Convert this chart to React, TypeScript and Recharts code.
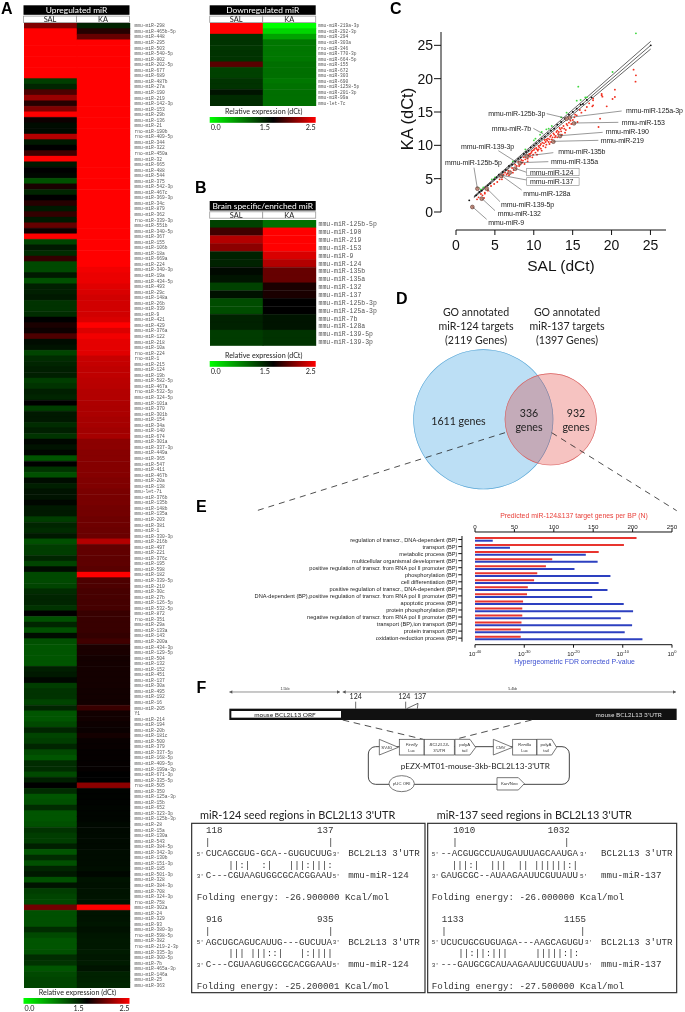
import React from "react";
import {
  Bar,
  BarChart,
  Cell,
  Pie,
  PieChart,
  ReferenceLine,
  Scatter,
  ScatterChart,
  XAxis,
  YAxis,
} from "recharts";

// Panel A: upregulated miRs
const upNames = [
  "298", "465b-5p", "448", "295", "503", "540-5p", "802", "202-5p", "677", "689",
  "487b", "27a", "190", "219", "142-3p", "153", "29b", "136", "21", "rno-miR-190b",
  "rno-miR-409-5p", "344", "322", "rno-miR-450a", "32", "665", "488", "544", "375", "542-3p",
  "467c", "369-3p", "34c", "879", "362", "rno-miR-339-3p", "551b", "340-5p", "367", "155",
  "106b", "18a", "669a", "224", "340-3p", "19a", "434-5p", "493", "29c", "148a",
  "26b", "339", "9", "421", "429", "376a", "122", "218", "10a", "rno-miR-224",
  "rno-miR-1", "215", "124", "19b", "582-5p", "467a", "rno-miR-532-5p", "324-5p", "101a", "370",
  "301b", "154", "34a", "140", "674", "301a", "337-3p", "449a", "365", "547",
  "411", "467b", "20a", "138", "mmu-let-7i", "376b", "135b", "148b", "135a", "203",
  "381", "1", "330-3p", "216b", "497", "221", "376c", "195", "598", "182",
  "339-5p", "210", "30c", "27b", "126-5p", "532-5p", "872", "rno-miR-351", "29a", "133a",
  "143", "200a", "434-3p", "129-5p", "504", "132", "152", "451", "137", "30a",
  "495", "192", "16", "205", "Y1", "214", "194", "20b", "181c", "500",
  "379", "337-5p", "168-5p", "409-5p", "199a-3p", "671-3p", "335-5p", "rno-miR-505", "350", "125a-3p",
  "15b", "652", "323-3p", "125b-3p", "28", "15a", "130a", "543", "384-5p", "342-3p",
  "130b", "151-3p", "185", "501-3p", "328", "384-3p", "708", "324-3p", "rno-miR-758", "302a",
  "24", "329", "93", "380-3p", "rno-miR-598-5p", "382", "rno-miR-219-2-3p", "335-3p", "300-5p", "7b",
  "465a-3p", "146a", "25", "363",
];
const upSal = [
  2.0, 2.5, 2.5, 2.5, 2.5, 2.5, 2.5, 2.5, 2.5, 2.5,
  1.14, 1.28, 1.8, 2.1, 1.65, 2.0, 2.5, 1.55, 1.43, 1.44,
  2.2, 1.35, 1.5, 1.75, 2.5, 1.35, 1.5, 1.46, 1.03, 1.6,
  1.28, 1.5, 1.65, 1.35, 1.7, 1.35, 1.9, 1.55, 2.5, 1.1,
  1.35, 1.24, 1.7, 1.07, 1.07, 1.35, 1.03, 1.32, 1.32, 1.35,
  1.2, 1.2, 1.24, 1.5, 1.6, 1.55, 1.8, 1.43, 1.39, 1.1,
  1.24, 1.28, 1.32, 1.32, 1.14, 1.2, 1.32, 1.28, 1.5, 1.14,
  1.35, 1.35, 1.24, 1.32, 1.2, 1.46, 1.39, 1.46, 1.0, 1.5,
  1.2, 1.03, 1.43, 1.32, 1.39, 1.39, 1.46, 1.35, 1.35, 1.14,
  1.28, 1.24, 1.35, 1.03, 1.14, 1.14, 1.28, 1.1, 1.43, 1.07,
  1.07, 1.1, 1.24, 1.28, 1.28, 1.2, 1.5, 1.03, 1.28, 1.03,
  1.43, 1.03, 1.0, 1.0, 1.0, 1.0, 1.32, 1.35, 1.46, 1.14,
  1.2, 1.2, 1.1, 1.28, 1.0, 1.0, 1.07, 1.28, 1.1, 1.14,
  1.28, 1.07, 1.0, 1.24, 1.24, 1.07, 1.32, 1.5, 1.24, 1.0,
  1.03, 1.24, 1.0, 1.0, 1.03, 1.2, 1.14, 1.14, 1.32, 1.0,
  1.24, 1.03, 1.28, 1.35, 1.03, 1.39, 1.14, 1.1, 1.07, 1.95,
  1.03, 1.03, 1.03, 1.24, 1.07, 1.0, 1.0, 1.03, 1.24, 1.2,
  1.0, 1.07, 1.1, 1.1,
];
const upKa = [
  1.3, 1.65, 1.9, 2.5, 2.5, 2.5, 2.5, 2.5, 2.5, 2.5,
  2.5, 2.5, 2.5, 2.5, 2.5, 2.5, 2.5, 2.5, 2.5, 2.5,
  2.5, 2.5, 2.5, 2.5, 2.5, 2.5, 2.5, 2.5, 2.5, 2.5,
  2.5, 2.5, 2.5, 2.5, 2.5, 2.5, 2.5, 2.5, 2.5, 2.5,
  2.5, 2.5, 2.5, 2.5, 2.45, 2.42, 2.42, 2.38, 2.35, 2.32,
  2.32, 2.32, 2.32, 2.35, 2.5, 2.36, 2.45, 2.4, 2.4, 2.38,
  2.28, 2.27, 2.25, 2.25, 2.23, 2.22, 2.2, 2.2, 2.18, 2.17,
  2.17, 2.15, 2.15, 2.13, 2.15, 2.05, 2.05, 2.03, 2.03, 2.02,
  2.02, 2.02, 2.0, 2.0, 1.98, 1.97, 1.97, 1.95, 1.95, 1.93,
  1.93, 1.92, 1.92, 2.2, 1.88, 1.88, 1.87, 1.87, 1.85, 2.5,
  1.8, 1.8, 1.78, 1.78, 1.77, 1.77, 1.72, 1.72, 1.72, 1.72,
  1.7, 1.75, 1.6, 1.6, 1.58, 1.58, 1.58, 1.58, 1.58, 1.58,
  1.57, 1.57, 1.57, 1.72, 1.57, 1.57, 1.55, 1.54, 1.58, 1.53,
  1.53, 1.52, 1.52, 1.52, 1.52, 1.5, 1.5, 2.05, 1.48, 1.48,
  1.48, 1.47, 1.47, 1.47, 1.45, 1.45, 1.44, 1.44, 1.44, 1.43,
  1.43, 1.43, 1.42, 1.46, 1.39, 1.4, 1.39, 1.38, 1.38, 2.5,
  1.38, 1.38, 1.37, 1.4, 1.37, 1.36, 1.36, 1.34, 1.36, 1.34,
  1.38, 1.3, 1.3, 1.28,
];

// Panel A, right: downregulated miRs
const downNames = [
  "219a-3p", "292-3p", "294", "303a", "rno-miR-346", "770-3p", "664-5p", "155",
  "672", "303", "690", "1258-5p", "201-3p", "99a", "mmu-let-7c",
];
const downSal = [2.5, 2.5, 1.2, 1.2, 1.18, 1.2, 1.2, 1.85, 1.12, 1.12, 1.2, 1.2, 1.38, 1.25, 1.25];
const downKa = [0.0, 0.25, 0.55, 0.8, 0.8, 0.8, 0.8, 0.85, 0.85, 0.85, 0.8, 0.83, 0.85, 0.85, 0.85];

// Panel B
const brainNames = [
  "125b-5p", "190", "219", "153", "9", "124", "135b", "135a",
  "132", "137", "125b-3p", "125a-3p", "7b", "128a", "139-5p", "139-3p",
];
const brainSal = [1.12, 1.75, 2.2, 2.05, 1.3, 1.3, 1.45, 1.38, 1.12, 1.4, 1.05, 1.05, 1.3, 1.3, 1.15, 1.15];
const brainKa = [0.85, 2.5, 2.5, 2.5, 2.35, 2.2, 1.9, 1.9, 1.6, 1.6, 1.5, 1.5, 1.38, 1.38, 1.2, 1.2];

// Panel C: [SAL, KA]
const unchangedPts = [
  [1.7, 1.75], [2.6, 2.5], [3, 3], [3.3, 3.2], [3.8, 3.7], [4.1, 4], [4.4, 4.3], [4.9, 4.9], [5.2, 5.2],
  [5.5, 5.6], [6, 6], [6.4, 6.3], [6.8, 6.9], [7.2, 7.1], [7.6, 7.6], [8, 8], [8.3, 8.2], [8.7, 8.7],
  [9, 9], [9.3, 9.2], [9.6, 9.7], [10, 10], [10.3, 10.3], [10.7, 10.7], [11, 11], [11.4, 11.3], [11.8, 11.8],
  [12.2, 12.2], [12.6, 12.5], [13, 13.1], [13.5, 13.5], [14, 14], [14.5, 14.6], [15, 15], [15.5, 15.5],
  [16, 16.1], [16.3, 16.2], [16.8, 16.8], [17.4, 17.2], [25, 25],
];
const downPts = [
  [23.1, 26.8], [20.1, 21], [15.7, 18.8], [15.5, 16.7], [16, 16.8], [16.6, 17.2], [16.8, 17.2], [14.2, 14.9],
  [11, 12], [11.6, 12.4], [11.9, 12.5], [10.2, 11], [10, 10.75], [8.9, 9.4], [7.3, 7.6], [4.6, 4.9],
  [2.8, 3.5], [2.9, 3.6], [3.2, 3.4], [3.5, 3.7], [5, 5.2], [10.8, 11.6], [12.3, 12.9], [13.5, 14.2],
];
const upPts = [
  [22.8, 21.35], [23.1, 20.5], [23.05, 19.55], [20.4, 18.35], [20.4, 17.25], [20.1, 16.95], [18.7, 17.5],
  [18.8, 17.3], [18.7, 17.7], [17.6, 17], [17.1, 16.3], [17.6, 16], [19.35, 15.85], [18.5, 14], [18.3, 12.75],
  [17.6, 16.75], [17.5, 15.85], [16.8, 15.75], [16.6, 15.25], [15.9, 15.3], [16.1, 14.9], [15.5, 14.5],
  [15.2, 14.2], [15.6, 13.5], [14.8, 13.2], [14.6, 12.6], [14.3, 13], [14.1, 12.3], [13.8, 12.9], [13.5, 12.1],
  [13.3, 12.6], [13.1, 11.7], [12.9, 12], [12.7, 11.2], [12.5, 11.8], [12.3, 10.9], [12.1, 11.3], [11.9, 10.5],
  [11.8, 11], [11.6, 10.1], [11.4, 10.8], [11.2, 9.9], [11.1, 10.4], [10.9, 9.5], [10.8, 10], [10.6, 9.9],
  [10.5, 9.2], [10.3, 9.6], [10.2, 8.9], [10, 9.3], [9.9, 8.6], [9.7, 9], [9.5, 8.3], [9.4, 8.7], [9.2, 8],
  [9.1, 8.5], [8.9, 7.9], [8.7, 8.2], [8.5, 7.4], [8.4, 7.8], [8.2, 7.1], [8, 7.5], [7.8, 6.9], [7.6, 7.1],
  [7.4, 6.3], [7.2, 6.6], [7, 6.1], [6.9, 5.8], [6.7, 6.2], [6.5, 5.6], [6.3, 5.9], [6.1, 5.6], [5.9, 5.2],
  [5.6, 4.9], [5.3, 4.5], [5.9, 4.9], [4.9, 4.2], [4.5, 3.9], [4.1, 3.2], [3.7, 2.9], [3.4, 2.5], [3.2, 2.7],
  [2.9, 2.2], [2.7, 1.9], [3.6, 2.1], [3.7, 2.75], [8.6, 7.7], [8.9, 8.3], [9.3, 8.5], [9.6, 8.8], [9.8, 9.2],
  [10.1, 9.5], [10.4, 9.4], [10.7, 9.7], [10.9, 10.2], [11.3, 10.3], [11.5, 10.5], [11.7, 10.7], [12, 10.9],
  [12.2, 11.5], [12.4, 11.2], [12.6, 11.6], [12.8, 11.4], [13, 12.2], [13.2, 12], [13.4, 12.4], [13.6, 12.6],
  [13.9, 12.5], [14.2, 13.2], [14.5, 13.4], [14.7, 13.7], [15, 13.8], [15.3, 14.6], [11, 9.2], [11.5, 9.7],
  [12, 10.2], [10.4, 8.6], [9.8, 8.2], [9.2, 7.6], [8.8, 7.2], [8.1, 6.9], [7.7, 6.4], [7.3, 5.9], [6.8, 5.5],
  [6.6, 5.8], [13.6, 11.6], [14, 11.9], [13, 11.2], [12.2, 10.5], [9.5, 8.7], [10.6, 9.4], [11.6, 10.9],
];
const labelledPts = [
  [2.1, 0.75], [3.3, 2.0], [3.95, 3.5], [5.8, 5.4], [6.9, 5.9], [7.6, 6.5], [8.2, 7.35], [9.1, 8.35],
  [12.5, 10.55], [13.35, 11.4], [15.15, 13.3], [14.6, 14.15], [14.2, 14], [2.75, 3.5],
];
const cTicks = [0, 5, 10, 15, 20, 25];

// Panel E
const bpNames = [
  "regulation of transcr., DNA-dependent (BP)",
  "transport (BP)",
  "metabolic process (BP)",
  "multicellular organismal development (BP)",
  "positive regulation of transcr. from RNA pol II promoter (BP)",
  "phosphorylation (BP)",
  "cell differentiation (BP)",
  "positive regulation of transcr., DNA-dependent (BP)",
  "DNA-dependent (BP),positive regulation of transcr. from RNA pol II promoter (BP)",
  "apoptotic process (BP)",
  "protein phosphorylation (BP)",
  "negative regulation of transcr. from RNA pol II promoter (BP)",
  "transport (BP),ion transport (BP)",
  "protein transport (BP)",
  "oxidation-reduction process (BP)",
];
const bpGenes = [205, 189, 157, 98, 90, 79, 75, 67, 66, 61, 60, 60, 59, 58, 58];
const bpLogP = [-36.4, -32.9, -17.5, -15.1, -19.8, -12.5, -14.9, -13.1, -16.2, -9.8, -7.9, -10.4, -8.1, -9.6, -6];
const geneTicks = [0, 50, 100, 150, 200, 250];
const logPTicks = [-40, -30, -20, -10, 0];

const bpRows = bpNames.map((name, i) => ({ name, genes: bpGenes[i], logP: bpLogP[i] }));

const fullName = (n: string) =>
  n.startsWith("mmu-") || n.startsWith("rno-") || n === "Y1" ? n : `mmu-miR-${n}`;

// green 0.0 -> black 1.5 -> red 2.5
function heatColor(v: number) {
  if (v <= 1.5) return `rgb(0,${Math.round((255 * (1.5 - v)) / 1.5)},0)`;
  return `rgb(${Math.round(255 * Math.min(v - 1.5, 1))},0,0)`;
}

const SANS = "Liberation Sans";
const CAL = "Lato";
const MONO = "Liberation Mono";

// willChange keeps each layer on its own transparent surface so small text is grey, not colour-fringed
const abs = (left: number, top: number): React.CSSProperties => ({
  position: "absolute",
  left,
  top,
  willChange: "transform",
});

function Heatmap(props: {
  names: string[];
  sal: number[];
  ka: number[];
  left: number;
  top: number;
  plotW: number;
  h: number;
  font: number;
  gap: number;
}) {
  const { names, sal, ka, left, top, plotW, h, font, gap } = props;
  const rows = names.map((n, i) => ({ name: fullName(n), sal: sal[i], ka: ka[i] }));
  return (
    <div style={abs(left, top)}>
      <BarChart
        width={plotW + 80}
        height={h}
        data={rows}
        layout="vertical"
        barCategoryGap={0}
        margin={{ top: 0, right: 0, bottom: 0, left: 0 }}
      >
        <XAxis type="number" hide domain={[0, 2]} />
        <YAxis
          type="category"
          dataKey="name"
          orientation="right"
          width={80}
          interval={0}
          axisLine={false}
          tickLine={false}
          tickMargin={0}
          tickSize={gap}
          tick={{ fontSize: font, fontFamily: MONO, fill: "#555" }}
        />
        <Bar dataKey={() => 1} stackId="h" isAnimationActive={false}>
          {rows.map((r, i) => (
            <Cell key={i} fill={heatColor(r.sal)} stroke={heatColor(r.sal)} strokeWidth={0.4} />
          ))}
        </Bar>
        <Bar dataKey={() => 1} stackId="h" isAnimationActive={false}>
          {rows.map((r, i) => (
            <Cell key={i} fill={heatColor(r.ka)} stroke={heatColor(r.ka)} strokeWidth={0.4} />
          ))}
        </Bar>
      </BarChart>
    </div>
  );
}

function HeatHeader({ x, w, y, title }: { x: number; w: number; y: number; title: string }) {
  return (
    <g fontFamily={CAL} textAnchor="middle">
      <rect x={x} y={y} width={w} height={9.5} fill="#000" />
      <text x={x + w / 2} y={y + 7.6} fill="#fff" fontSize={8.4}>
        {title}
      </text>
      <rect x={x} y={y + 10.8} width={w / 2} height={6.4} fill="#fff" stroke="#999" strokeWidth={0.8} />
      <rect x={x + w / 2} y={y + 10.8} width={w / 2} height={6.4} fill="#fff" stroke="#999" strokeWidth={0.8} />
      <text x={x + w / 4} y={y + 16.6} fontSize={7.4} fill="#222">
        SAL
      </text>
      <text x={x + (3 * w) / 4} y={y + 16.6} fontSize={7.4} fill="#222">
        KA
      </text>
    </g>
  );
}

function HeatLegend({ x, w, y }: { x: number; w: number; y: number }) {
  return (
    <g fontFamily={CAL} fill="#222" fontSize={7.2}>
      <text x={x + w / 2 + 1} y={y} textAnchor="middle">
        Relative expression (dCt)
      </text>
      <rect x={x} y={y + 3.5} width={w} height={5.8} fill="url(#heatGrad)" />
      <text x={x + 1} y={y + 16.5}>0.0</text>
      <text x={x + w * 0.52} y={y + 16.5} textAnchor="middle">1.5</text>
      <text x={x + w} y={y + 16.5} textAnchor="end">2.5</text>
    </g>
  );
}

const dotShape = (color: string, r: number) => (p: any) =>
  <circle cx={p.cx} cy={p.cy} r={r} fill={color} />;
const noShape = () => <g />;

const toXY = (pts: number[][]) => pts.map(([x, y]) => ({ x, y }));

function PanelC() {
  const tickStyle = { fontSize: 14, fontFamily: SANS, fill: "#111" };
  return (
    <>
      {/* points and guide lines */}
      <div style={abs(456, 21.7)}>
        <ScatterChart width={210.3} height={200} margin={{ top: 10, right: 0, bottom: 10, left: 0 }}>
          <XAxis type="number" dataKey="x" domain={[0, 27]} hide />
          <YAxis type="number" dataKey="y" domain={[0, 27]} hide />
          <Scatter data={toXY(upPts)} shape={dotShape("#f03020", 0.95)} isAnimationActive={false} />
          <Scatter data={toXY(downPts)} shape={dotShape("#3fd83f", 0.95)} isAnimationActive={false} />
          <Scatter data={toXY(unchangedPts)} shape={dotShape("#111", 0.95)} isAnimationActive={false} />
          <ReferenceLine segment={[{ x: 2.3, y: 2.35 }, { x: 25, y: 25.6 }]} stroke="#222" strokeWidth={0.7} />
          <ReferenceLine segment={[{ x: 2.3, y: 2.25 }, { x: 25, y: 25 }]} stroke="#222" strokeWidth={0.7} />
          <ReferenceLine segment={[{ x: 2.3, y: 2.15 }, { x: 25, y: 24.45 }]} stroke="#222" strokeWidth={0.7} />
          <Scatter
            data={toXY(labelledPts)}
            shape={(p: any) => (
              <circle cx={p.cx} cy={p.cy} r={1.9} fill="#c98f7f" stroke="#5a3a35" strokeWidth={0.6} />
            )}
            isAnimationActive={false}
          />
        </ScatterChart>
      </div>
      {/* y axis sits left of the plot */}
      <div style={abs(405.7, 21.7)}>
        <ScatterChart width={245} height={200} margin={{ top: 10, right: 0, bottom: 10, left: 0 }}>
          <XAxis type="number" dataKey="x" domain={[0, 27]} hide />
          <YAxis
            type="number"
            dataKey="y"
            width={35}
            domain={[0, 27]}
            ticks={cTicks}
            interval={0}
            stroke="#111"
            tickSize={7}
            tickMargin={1}
            tick={tickStyle}
          />
          <Scatter data={toXY(labelledPts)} shape={noShape} isAnimationActive={false} />
        </ScatterChart>
      </div>
      {/* x axis sits below the plot */}
      <div style={abs(446, 40)}>
        <ScatterChart width={240} height={225} margin={{ top: 10, right: 20, bottom: 0, left: 10 }}>
          <XAxis
            type="number"
            dataKey="x"
            height={35}
            domain={[0, 27]}
            ticks={cTicks}
            interval={0}
            stroke="#111"
            tickSize={5}
            tickMargin={5}
            tick={tickStyle}
          />
          <YAxis type="number" dataKey="y" domain={[0, 27]} hide />
          <Scatter data={toXY(labelledPts)} shape={noShape} isAnimationActive={false} />
        </ScatterChart>
      </div>
    </>
  );
}

function PowerTick({ x, y, payload }: any) {
  return (
    <text x={x} y={y + 6} textAnchor="middle" fontFamily={SANS} fontSize={6} fill="#222">
      10
      <tspan dy={-2.2} fontSize={4}>
        {payload.value}
      </tspan>
    </text>
  );
}

// plain text: the library's own tick wraps long labels to the axis width
function BpTick({ x, y, payload }: any) {
  return (
    <text x={x} y={y + 2} textAnchor="end" fontFamily={SANS} fontSize={5.65} fill="#222">
      {payload.value}
    </text>
  );
}

function PanelE() {
  const M = { top: 0, right: 0, bottom: 0, left: 0 };
  const H = 105.7;
  return (
    <>
      <div style={abs(475.3, 535.8)}>
        <BarChart width={197} height={H} data={bpRows} layout="vertical" barSize={2} barGap={0.7} barCategoryGap={0} margin={M}>
          <XAxis xAxisId="genes" type="number" domain={[0, 250]} hide />
          <XAxis xAxisId="p" type="number" domain={[-40, 0]} hide />
          <YAxis type="category" dataKey="name" hide />
          <Bar xAxisId="genes" dataKey="genes" fill="#e8352f" isAnimationActive={false} />
          <Bar xAxisId="p" dataKey={(d: any) => [-40, d.logP]} fill="#2d40c0" isAnimationActive={false} />
        </BarChart>
      </div>
      {/* category axis, offset left of the bars */}
      <div style={abs(162.3, 535.8)}>
        <BarChart width={310} height={H} data={bpRows} layout="vertical" margin={M}>
          <XAxis type="number" domain={[0, 250]} hide />
          <YAxis
            type="category"
            dataKey="name"
            width={300}
            interval={0}
            stroke="#111"
            tickSize={3.7}
            tickMargin={0.8}
            tick={<BpTick />}
          />
        </BarChart>
      </div>
      {/* genes axis on top */}
      <div style={abs(465.3, 512.3)}>
        <BarChart width={217} height={H + 20} data={bpRows} layout="vertical" margin={{ top: 0, right: 10, bottom: 0, left: 10 }}>
          <XAxis
            type="number"
            orientation="top"
            height={20}
            domain={[0, 250]}
            ticks={geneTicks}
            interval={0}
            stroke="#111"
            tickSize={3}
            tickMargin={0}
            tick={{ fontSize: 6.2, fontFamily: SANS, fill: "#222" }}
          />
          <YAxis type="category" dataKey="name" hide />
          <Bar dataKey="genes" fill="none" isAnimationActive={false} />
        </BarChart>
      </div>
      {/* log P axis below */}
      <div style={abs(465.3, 539.3)}>
        <BarChart width={217} height={H + 20} data={bpRows} layout="vertical" margin={{ top: 0, right: 10, bottom: 0, left: 10 }}>
          <XAxis
            type="number"
            height={20}
            domain={[-40, 0]}
            ticks={logPTicks}
            interval={0}
            stroke="#111"
            tickSize={3}
            tick={<PowerTick />}
          />
          <YAxis type="category" dataKey="name" hide />
          <Bar dataKey={(d: any) => [-40, d.logP]} fill="none" isAnimationActive={false} />
        </BarChart>
      </div>
    </>
  );
}

function Venn() {
  const whole = { startAngle: 0, endAngle: 360, stroke: "none", isAnimationActive: false, dataKey: "value" };
  return (
    <div style={abs(400, 340)}>
      <PieChart width={210} height={160} margin={{ top: 0, right: 0, bottom: 0, left: 0 }}>
        <Pie {...whole} data={[{ value: 2119 }]} cx={83.3} cy={79.3} outerRadius={70} fill="#bcdff5" />
        <Pie {...whole} data={[{ value: 2119 }]} cx={83.3} cy={79.3} innerRadius={69.4} outerRadius={70} fill="#5aa7d6" />
        <Pie {...whole} data={[{ value: 1397 }]} cx={150.7} cy={79.3} outerRadius={46} fill="rgba(220,16,8,0.25)" />
        <Pie {...whole} data={[{ value: 1397 }]} cx={150.7} cy={79.3} innerRadius={45.4} outerRadius={46} fill="#d9605f" />
      </PieChart>
    </div>
  );
}

function CLabel({ x, y, t, anchor = "start" }: { x: number; y: number; t: string; anchor?: any }) {
  return (
    <text x={350 + x / 3} y={y / 3 + 2.4} textAnchor={anchor} fontFamily={SANS} fontSize={7} fill="#222" letterSpacing={-0.1}>
      {t}
    </text>
  );
}

const leaderLines = [
  [590, 341, 650, 355], [815, 333, 660, 352], [805, 367, 672, 369], [758, 397, 630, 407], [745, 421, 610, 424],
  [550, 385, 580, 402], [610, 458, 530, 468], [595, 485, 510, 488], [445, 452, 497, 485], [372, 503, 382, 565],
  [530, 517, 495, 505], [530, 540, 450, 525], [515, 570, 455, 527], [450, 605, 410, 565], [435, 632, 395, 595],
  [410, 658, 367, 620],
];

function CAnnotations() {
  return (
    <g>
      {leaderLines.map(([a, b, c, d], i) => (
        <line key={i} x1={350 + a / 3} y1={b / 3} x2={350 + c / 3} y2={d / 3} stroke="#333" strokeWidth={0.5} />
      ))}
      <rect x={526.7} y={168.3} width={52.4} height={7.4} fill="#fff" stroke="#888" strokeWidth={0.6} />
      <rect x={526.7} y={177.7} width={52.4} height={7.6} fill="#fff" stroke="#888" strokeWidth={0.6} />
      <CLabel x={415} y={341} t="mmu-miR-125b-3p" />
      <CLabel x={828} y={333} t="mmu-miR-125a-3p" />
      <CLabel x={815} y={367} t="mmu-miR-153" />
      <CLabel x={767} y={394} t="mmu-miR-190" />
      <CLabel x={752} y={421} t="mmu-miR-219" />
      <CLabel x={425} y={385} t="mmu-miR-7b" />
      <CLabel x={625} y={455} t="mmu-miR-135b" />
      <CLabel x={603} y={485} t="mmu-miR-135a" />
      <CLabel x={333} y={439} t="mmu-miR-139-3p" />
      <CLabel x={285} y={488} t="mmu-miR-125b-5p" />
      <CLabel x={540} y={517} t="mmu-miR-124" />
      <CLabel x={540} y={545} t="mmu-miR-137" />
      <CLabel x={520} y={580} t="mmu-miR-128a" />
      <CLabel x={453} y={613} t="mmu-miR-139-5p" />
      <CLabel x={443} y={640} t="mmu-miR-132" />
      <CLabel x={415} y={668} t="mmu-miR-9" />
      <text x={561} y={271} textAnchor="middle" fontFamily={SANS} fontSize={15.5} fill="#111">
        SAL (dCt)
      </text>
      <text
        transform="translate(412.5 119) rotate(-90)"
        textAnchor="middle"
        fontFamily={SANS}
        fontSize={16.5}
        fill="#111"
      >
        KA (dCt)
      </text>
    </g>
  );
}

function VennText() {
  const lines = (cx: number, a: string, b: string, c: string) => (
    <text textAnchor="middle" fontFamily={CAL} fontSize={10.6} fill="#222">
      <tspan x={cx} y={315.5}>{a}</tspan>
      <tspan x={cx} y={329.7}>{b}</tspan>
      <tspan x={cx} y={344.2}>{c}</tspan>
    </text>
  );
  return (
    <g>
      {lines(476, "GO annotated", "miR-124 targets", "(2119 Genes)")}
      {lines(567, "GO annotated", "miR-137 targets", "(1397 Genes)")}
      <g textAnchor="middle" fontFamily={CAL} fontSize={10.6} fill="#222">
        <text x={458.5} y={424.5}>1611 genes</text>
        <text x={529} y={416.5}>336</text>
        <text x={529} y={431}>genes</text>
        <text x={576} y={416.5}>932</text>
        <text x={576} y={431}>genes</text>
      </g>
      <line x1={505} y1={432.7} x2={256.7} y2={510.7} stroke="#222" strokeWidth={0.8} strokeDasharray="6 5" />
      <line x1={551.7} y1={432.7} x2={676.7} y2={510.7} stroke="#222" strokeWidth={0.8} strokeDasharray="6 5" />
    </g>
  );
}

function Construct() {
  // drawn in 3x units, same grid as the zoomed figure
  const box = { fill: "#fff", stroke: "#555", strokeWidth: 2.4 };
  const small = { fontSize: 13, fill: "#333", fontFamily: SANS, textAnchor: "middle" as const };
  const ital = { ...small, fontStyle: "italic" as const };
  return (
    <g transform="translate(190 650) scale(0.33333)">
      <g stroke="#777" strokeWidth={2.4}>
        <line x1={118} y1={126} x2={450} y2={126} />
        <line x1={458} y1={126} x2={1458} y2={126} />
      </g>
      <g fill="#555">
        <polygon points="118,126 127,121 127,131" />
        <polygon points="450,126 441,121 441,131" />
        <polygon points="458,126 467,121 467,131" />
        <polygon points="1458,126 1449,121 1449,131" />
      </g>
      <text x={285} y={120} {...small} fontSize={11}>1.5kb</text>
      <text x={968} y={120} {...small} fontSize={11}>5.4kb</text>
      <rect x={118} y={176} width={1342} height={34} fill="#111" />
      <rect x={124} y={183} width={329} height={20} fill="#fff" />
      <g fontFamily={CAL} fontSize={19.5} textAnchor="middle">
        <text x={285} y={200} fill="#222">mouse BCL2L13 ORF</text>
        <text x={1316} y={200} fill="#ddd">mouse BCL2L13 3'UTR</text>
        <text x={497} y={147} fill="#222" fontSize={21}>124</text>
        <text x={643} y={147} fill="#222" fontSize={21}>124</text>
        <text x={690} y={147} fill="#222" fontSize={21}>137</text>
      </g>
      <g stroke="#222" strokeWidth={2} fill="none">
        <line x1={497} y1={155} x2={497} y2={176} />
        <line x1={647} y1={155} x2={647} y2={176} />
        <polyline points="650,176 684,160 682,176" />
      </g>
      <g stroke="#222" strokeWidth={2.4} strokeDasharray="20 14">
        <line x1={458} y1={210} x2={700} y2={268} />
        <line x1={1025} y1={210} x2={795} y2={268} />
      </g>
      <rect x={535} y={290} width={603} height={113} rx={22} fill="none" stroke="#444" strokeWidth={3} />
      <polygon points="568,268 568,315 625,292" {...box} />
      <rect x={628} y={268} width={74} height={47} {...box} />
      <rect x={703} y={268} width={90} height={47} {...box} />
      <polygon points="795,268 840,268 857,292 840,315 795,315" {...box} />
      <polygon points="910,268 910,315 968,292" {...box} />
      <rect x={968} y={268} width={72} height={47} {...box} />
      <polygon points="1041,268 1085,268 1100,292 1085,315 1041,315" {...box} />
      <ellipse cx={635} cy={401} rx={38} ry={24} {...box} />
      <polygon points="921,383 985,383 1003,401 985,420 921,420" {...box} />
      <text x={590} y={296} {...small}>SV40</text>
      <text x={932} y={296} {...small}>CMV</text>
      <text {...ital}><tspan x={665} y={288}>Firefly</tspan><tspan x={665} y={306} fontStyle="normal">Luc</tspan></text>
      <text {...ital}><tspan x={748} y={288}>BCL2L13-</tspan><tspan x={748} y={306} fontStyle="normal">3'UTR</tspan></text>
      <text {...small}><tspan x={824} y={288}>polyA</tspan><tspan x={824} y={306}>tail</tspan></text>
      <text {...ital}><tspan x={1004} y={288}>Renilla</tspan><tspan x={1004} y={306} fontStyle="normal">Luc</tspan></text>
      <text {...small}><tspan x={1068} y={288}>polyA</tspan><tspan x={1068} y={306}>tail</tspan></text>
      <text x={635} y={406} {...small}>pUC ORI</text>
      <text x={958} y={406} {...small}>Kan/Neo</text>
      <text x={856} y={357} fontFamily={CAL} fontSize={24.5} fill="#222" textAnchor="middle">
        pEZX-MT01-mouse-3kb-BCL2L13-3'UTR
      </text>
    </g>
  );
}

function Seq({ x, y, s }: { x: number; y: number; s: string }) {
  return (
    <text x={x} y={y} fontFamily={MONO} fontSize={27.5} fill="#333" style={{ whiteSpace: "pre" }}>
      {s}
    </text>
  );
}
function Prime({ x, y, s }: { x: number; y: number; s: string }) {
  return (
    <text x={x} y={y} fontFamily={MONO} fontSize={18} fill="#333">
      {s}
    </text>
  );
}

function SeedBoxes() {
  return (
    <g>
      <text x={200} y={819} fontFamily={CAL} fontSize={10.9} fill="#222">miR-124 seed regions in BCL2L13 3'UTR</text>
      <text x={436.7} y={819} fontFamily={CAL} fontSize={10.9} fill="#222">miR-137 seed regions in BCL2L13 3'UTR</text>
      <g transform="translate(190 815) scale(0.33333)">
        <rect x={5} y={25} width={700} height={508} fill="#fff" stroke="#333" strokeWidth={3.6} />
        <rect x={713} y={25} width={747} height={508} fill="#fff" stroke="#333" strokeWidth={3.6} />
        <Seq x={48} y={55} s="118" />
        <Seq x={381} y={55} s="137" />
        <Seq x={45} y={90} s="|" />
        <Seq x={414} y={90} s="|" />
        <Prime x={20} y={122} s="5'" />
        <Seq x={47} y={123} s="CUCAGCGUG-GCA--GUGUCUUG" />
        <Prime x={428} y={122} s="3'" />
        <Seq x={475} y={123} s="BCL2L13 3'UTR" />
        <Seq x={115} y={158} s="||:|  :|   |||:|||:" />
        <Prime x={20} y={189} s="3'" />
        <Seq x={47} y={190} s="C---CGUAAGUGGCGCACGGAAU" />
        <Prime x={428} y={189} s="5'" />
        <Seq x={475} y={190} s="mmu-miR-124" />
        <Seq x={20} y={256} s="Folding energy: -26.900000 Kcal/mol" />
        <Seq x={48} y={322} s="916" />
        <Seq x={381} y={322} s="935" />
        <Seq x={45} y={357} s="|" />
        <Seq x={414} y={357} s="|" />
        <Prime x={20} y={388} s="5'" />
        <Seq x={47} y={389} s="AGCUGCAGUCAUUG---GUCUUA" />
        <Prime x={428} y={388} s="3'" />
        <Seq x={475} y={389} s="BCL2L13 3'UTR" />
        <Seq x={115} y={422} s="||| |||::|   |:||||" />
        <Prime x={20} y={455} s="3'" />
        <Seq x={47} y={456} s="C---CGUAAGUGGCGCACGGAAU" />
        <Prime x={428} y={455} s="5'" />
        <Seq x={475} y={456} s="mmu-miR-124" />
        <Seq x={20} y={522} s="Folding energy: -25.200001 Kcal/mol" />

        <Seq x={790} y={55} s="1010" />
        <Seq x={1073} y={55} s="1032" />
        <Seq x={787} y={90} s="|" />
        <Seq x={1122} y={90} s="|" />
        <Prime x={725} y={122} s="5'" />
        <Seq x={752} y={123} s="--ACGUGCCUAUGAUUUAGCAAUGA" />
        <Prime x={1170} y={122} s="3'" />
        <Seq x={1233} y={123} s="BCL2L13 3'UTR" />
        <Seq x={785} y={158} s="|||:|  |||  || ||||||:|" />
        <Prime x={725} y={189} s="3'" />
        <Seq x={752} y={190} s="GAUGCGC--AUAAGAAUUCGUUAUU" />
        <Prime x={1170} y={189} s="5'" />
        <Seq x={1233} y={190} s="mmu-miR-137" />
        <Seq x={725} y={256} s="Folding energy: -26.000000 Kcal/mol" />
        <Seq x={755} y={322} s="1133" />
        <Seq x={1122} y={322} s="1155" />
        <Seq x={754} y={357} s="|" />
        <Seq x={1170} y={357} s="|" />
        <Prime x={725} y={388} s="5'" />
        <Seq x={752} y={389} s="UCUCUGCGUGUAGA---AAGCAGUGU" />
        <Prime x={1185} y={388} s="3'" />
        <Seq x={1233} y={389} s="BCL2L13 3'UTR" />
        <Seq x={805} y={422} s="||:||:|||     |||||:|:" />
        <Prime x={725} y={455} s="3'" />
        <Seq x={752} y={456} s="---GAUGCGCAUAAGAAUUCGUUAUU" />
        <Prime x={1185} y={455} s="5'" />
        <Seq x={1233} y={456} s="mmu-miR-137" />
        <Seq x={725} y={522} s="Folding energy: -27.500000 Kcal/mol" />
      </g>
    </g>
  );
}

function Overlay() {
  const letter = { fontFamily: SANS, fontWeight: 700, fontSize: 16, fill: "#000" };
  return (
    <svg width={685} height={1012} style={{ ...abs(0, 0), pointerEvents: "none" }}>
      <defs>
        <linearGradient id="heatGrad" x1="0" y1="0" x2="1" y2="0">
          <stop offset="0%" stopColor="#00ff00" />
          <stop offset="60%" stopColor="#000" />
          <stop offset="100%" stopColor="#ff0000" />
        </linearGradient>
      </defs>
      <text x={1} y={14} {...letter}>A</text>
      <text x={195} y={192.5} {...letter}>B</text>
      <text x={390} y={14} {...letter}>C</text>
      <text x={396} y={303.5} {...letter}>D</text>
      <text x={196} y={511.5} {...letter}>E</text>
      <text x={196.5} y={692.5} {...letter}>F</text>

      <HeatHeader x={23.5} w={106} y={5.3} title="Upregulated miR" />
      <HeatHeader x={209.7} w={106} y={5.3} title="Downregulated miR" />
      <HeatHeader x={209.7} w={106} y={201} title="Brain specific/enriched miR" />
      <HeatLegend x={23.5} w={106} y={994.5} />
      <HeatLegend x={209.7} w={106} y={113.5} />
      <HeatLegend x={209.7} w={106} y={357.5} />

      <CAnnotations />
      <VennText />

      <text x={574} y={518} textAnchor="middle" fontFamily={SANS} fontSize={6.9} fill="#e8403a">
        Predicted miR-124&amp;137 target genes per BP (N)
      </text>
      <text x={574.5} y={664} textAnchor="middle" fontFamily={SANS} fontSize={6.9} fill="#3b4fd0">
        Hypergeometric FDR corrected P-value
      </text>

      <Construct />
      <SeedBoxes />
    </svg>
  );
}

export default function App() {
  return (
    <div style={{ position: "absolute", left: 0, top: 0, width: 685, height: 1012, overflow: "hidden" }}>
      <Heatmap names={upNames} sal={upSal} ka={upKa} left={23.5} top={23.3} plotW={106} h={965} font={4.6} gap={4.5} />
      <Heatmap names={downNames} sal={downSal} ka={downKa} left={209.7} top={23.3} plotW={106} h={83} font={4.6} gap={2} />
      <Heatmap names={brainNames} sal={brainSal} ka={brainKa} left={209.7} top={220} plotW={106} h={125.7} font={6.5} gap={2.5} />
      <PanelC />
      <Venn />
      <PanelE />
      <Overlay />
    </div>
  );
}
